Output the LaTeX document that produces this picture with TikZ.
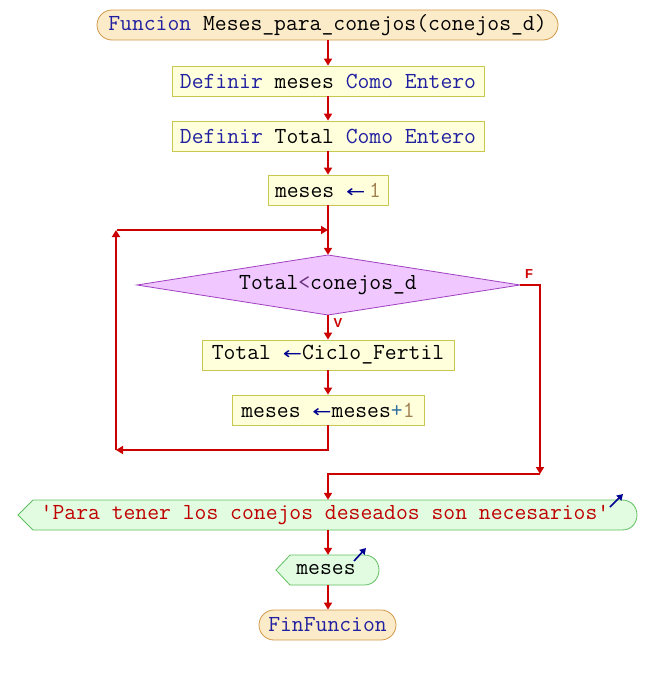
\documentclass[tikz,border=0pt]{standalone}
\usepackage{fontspec}
\usepackage{graphicx}
\newfontfamily\lblfont{Liberation Sans}
\newfontfamily\arrfont{DejaVu Sans}
\usetikzlibrary{arrows.meta}
\definecolor{pillfill}{HTML}{FCEBC8}
\definecolor{pillline}{HTML}{D09848}
\definecolor{boxfill}{HTML}{FFFFDC}
\definecolor{boxline}{HTML}{C8C850}
\definecolor{diafill}{HTML}{F0C8FF}
\definecolor{dialine}{HTML}{A040C0}
\definecolor{outfill}{HTML}{E2FCE2}
\definecolor{outline}{HTML}{60C060}
\definecolor{flow}{HTML}{CC0000}
\definecolor{kwcol}{HTML}{2020A0}
\definecolor{arrcol}{HTML}{000090}
\definecolor{numcol}{HTML}{A08050}
\definecolor{strcol}{HTML}{C00000}
\definecolor{opcol}{HTML}{3070A0}
\definecolor{ltcol}{HTML}{6A3080}
\newcommand{\kw}[1]{\textcolor{kwcol}{#1}}
\newcommand{\asg}{\textcolor{arrcol}{\scalebox{1.35}[1]{\arrfont\fontsize{17}{20}\selectfont ←}}}
\newcommand{\num}[1]{\textcolor{numcol}{#1}}
\tikzset{
  basefont/.style={font=\ttfamily\fontsize{23}{25}\selectfont},
  pill/.style={basefont, draw=pillline, fill=pillfill, rounded corners=15pt, minimum height=30pt, inner sep=0pt, line width=0.8pt},
  procbox/.style={basefont, rectangle, draw=boxline, fill=boxfill, minimum height=30pt, inner sep=0pt, line width=0.8pt},
  decision/.style={draw=dialine, fill=diafill, line width=0.8pt},
  dtext/.style={basefont, minimum width=383pt, minimum height=60pt, inner sep=0pt},
  outshape/.style={draw=outline, fill=outfill, line width=0.8pt},
  outtext/.style={basefont, minimum height=30pt, inner sep=0pt},
  flowline/.style={draw=flow, line width=1.8pt},
  flowarrow/.style={flowline, -{Triangle[width=8pt,length=7pt]}},
  branchlbl/.style={text=flow, font=\lblfont\bfseries\fontsize{13}{14}\selectfont},
  outarrow/.style={draw=arrcol, line width=1.6pt, -{Triangle[width=7pt,length=6pt]}}
}
\begin{document}
\begin{tikzpicture}[x=1pt,y=-1pt]
\useasboundingbox (0,0) rectangle (656,675);
% nodes
\node[pill, minimum width=461pt] (top) at (327.5,25) {\kw{Funcion} Meses\_para\_conejos(conejos\_d)};
\node[procbox, minimum width=312pt] (d1) at (328,81) {\kw{Definir} meses \kw{Como} \kw{Entero}};
\node[procbox, minimum width=312pt] (d2) at (328,136) {\kw{Definir} Total \kw{Como} \kw{Entero}};
\node[procbox, minimum width=120pt] (a1) at (328,190) {meses \asg\,\num{1}};
% decision
\path[decision] (137,285) -- (328,255) -- (520,285) -- (328,315) -- cycle;
\node[dtext] (dia) at (328,285) {Total\textcolor{ltcol}{<}conejos\_d};
\node[procbox, minimum width=252pt] (b1) at (328,355) {Total \asg Ciclo\_Fertil};
\node[procbox, minimum width=192pt] (b2) at (328,410) {meses \asg meses\textcolor{opcol}{+}\num{1}};
% output 1
\path[outshape] (18,515) -- (33,500) -- (622,500) .. controls (642,500) and (642,530) .. (622,530) -- (33,530) -- cycle;
\node[outtext] (out) at (325,515) {\textcolor{strcol}{\textquotesingle Para tener los conejos deseados son necesarios\textquotesingle}};
\draw[outarrow] (610,507) -- (623,494);
% output 2
\path[outshape] (276,570) -- (290,555) -- (364,555) .. controls (384,555) and (384,585) .. (364,585) -- (290,585) -- cycle;
\node[outtext] (out2) at (326,570) {meses};
\draw[outarrow] (354,561) -- (366,548);
% end
\node[pill, minimum width=137pt] (fin) at (327.5,625) {\kw{FinFuncion}};
% coordinates
\coordinate (loopBR) at (328,450);
\coordinate (loopBL) at (116,450);
\coordinate (loopTL) at (116,230);
\coordinate (loopTS) at (117,230);
\coordinate (loopTR) at (328,230);
\coordinate (fR) at (540,285);
\coordinate (fB) at (540,474);
\coordinate (fJ) at (328,474);
% connectors
\draw[flowarrow] (top.south -| fJ) -- (d1.north -| fJ);
\draw[flowarrow] (d1.south -| fJ) -- (d2.north -| fJ);
\draw[flowarrow] (d2.south -| fJ) -- (a1.north -| fJ);
\draw[flowarrow] (a1.south -| fJ) -- (dia.north -| fJ);
\draw[flowarrow] (dia.south -| fJ) -- (b1.north -| fJ);
\draw[flowarrow] (b1.south -| fJ) -- (b2.north -| fJ);
\draw[flowarrow] (b2.south -| fJ) -- (loopBR) -- (loopBL);
\draw[flowarrow] (loopBL) -- (loopTL);
\draw[flowarrow] (loopTS) -- (loopTR);
\draw[flowarrow] (dia.east) -- (fR) -- (fB);
\draw[flowarrow] (fB) -- (fJ) -- (fJ |- out.north);
\draw[flowarrow] (out.south -| fJ) -- (fJ |- out2.north);
\draw[flowarrow] (out2.south -| fJ) -- (fin.north -| fJ);
\node[branchlbl] (lblF) at (529,274) {F};
\node[branchlbl] (lblV) at (338,323) {V};
\end{tikzpicture}
\end{document}
